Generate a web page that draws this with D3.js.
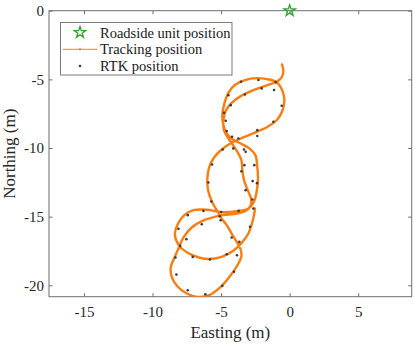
<!DOCTYPE html>
<html>
<head>
<meta charset="UTF-8">
<script src="https://cdn.jsdelivr.net/npm/d3@7"></script>
<style>
	body { margin: 0; background: #fff; }
	svg { display: block; font-family: "Liberation Serif", "Times New Roman", serif; }
	.tick text { fill: #262626; font-size: 15px; font-family: "Liberation Serif", "Times New Roman", serif; }
	.tick line { stroke: #6e6e6e; }
	.axis-label { fill: #262626; font-size: 17px; text-anchor: middle; }
	.legend-text { fill: #1a1a1a; font-size: 14.5px; }
	path.track { fill: none; stroke: #fa7d12; stroke-width: 2.4; stroke-linejoin: round; stroke-linecap: round; }
	circle.rtk { fill: #3c3c3c; }
</style>
</head>
<body>
<div id="chart"></div>
<script>
// tracking trajectory (m)
var trackEasting = [
	-0.56, -0.46, -0.56, -0.90,
	-1.68, -2.65, -3.57, -4.23, -4.64,
	-4.83, -4.79, -4.52, -4.18,
	-3.81, -3.52, -3.45, -3.33, -3.06, -2.82,
	-2.84, -3.13, -3.86, -5.08, -6.24, -7.14, -7.75, -8.11, -8.43, -8.67,
	-8.60, -8.19, -7.51, -6.71, -5.86, -5.03, -4.30, -3.81, -3.52,
	-3.57, -3.86, -4.23, -4.59, -4.96, -5.32,
	-5.66, -5.95, -6.00, -5.86, -5.51, -4.96,
	-4.23, -3.38, -2.41, -1.55, -0.90, -0.56,
	-0.39, -0.46, -0.70, -1.00,
	-1.68, -2.41, -3.26, -3.98, -4.47,
	-4.76, -4.91, -4.83, -4.59, -4.15,
	-3.57, -2.94, -2.50, -2.36, -2.31, -2.41, -2.60,
	-3.01, -3.86, -4.96, -6.05, -7.02, -7.68,
	-8.11, -8.36, -8.26, -7.87,
	-7.14, -6.05, -4.96, -4.11,
	-3.50, -3.01, -2.75, -2.60, -2.53
];
var trackNorthing = [
	-3.91, -4.37, -4.81, -5.15,
	-5.44, -5.78, -6.22, -6.71, -7.24,
	-7.97, -8.70, -9.23, -9.72,
	-10.28, -10.88, -11.61, -12.34, -13.07, -13.68,
	-14.16, -14.53, -14.77, -14.92, -15.26, -15.79, -16.52, -17.32, -18.05, -18.66,
	-19.39, -20.07, -20.60, -20.84, -20.72, -20.12, -19.27, -18.54, -17.88,
	-17.40, -16.84, -16.23, -15.62, -15.14, -14.53,
	-13.92, -13.07, -12.22, -11.37, -10.69, -10.11,
	-9.62, -9.23, -8.82, -8.41, -7.92, -7.36,
	-6.63, -6.03, -5.49, -5.17,
	-4.98, -4.91, -5.05, -5.39, -5.98,
	-6.75, -7.60, -8.33, -8.94, -9.38,
	-9.67, -10.03, -10.52, -11.37, -12.34, -13.19, -13.92,
	-14.41, -14.60, -14.67, -14.50, -14.53, -14.89,
	-15.45, -16.16, -16.76, -17.32,
	-17.78, -18.08, -17.93, -17.49,
	-16.91, -16.23, -15.50, -14.89, -14.41
];

// RTK reference points (m)
var rtkEasting = [
	-3.55, -2.28, -1.02, -4.47, -3.26, -2.04, -1.14, -4.30, -0.58, -4.79,
	-4.66, -1.19, -4.59, -4.20, -3.74, -2.36, -2.36, -4.88, -4.11, -3.33,
	-3.21, -5.66, -3.30, -2.58, -3.52, -5.93, -2.70, -2.38, -3.21, -5.71,
	-2.72, -2.65, -6.29, -5.00, -3.72, -5.10, -5.03, -7.43, -6.41, -2.89,
	-8.11, -4.23, -7.53, -7.99, -3.67, -8.33, -7.07, -5.81, -4.59, -3.84,
	-4.06, -8.26, -4.91, -7.43, -6.15
];
var rtkNorthing = [
	-5.17, -5.05, -5.20, -6.15, -6.10, -5.66, -5.78, -6.88, -6.92, -7.43,
	-8.02, -8.09, -8.77, -9.18, -9.31, -8.70, -9.13, -10.11, -10.03, -10.11,
	-10.28, -11.20, -11.25, -11.25, -11.69, -12.51, -12.41, -12.56, -13.07, -13.90,
	-13.75, -14.41, -14.58, -14.67, -14.58, -14.97, -15.26, -14.89, -15.55, -15.74,
	-15.89, -16.52, -16.64, -17.13, -16.84, -17.98, -17.93, -18.12, -17.74, -17.81,
	-19.02, -19.22, -20.04, -20.36, -20.65
];

var rsuPosition = [0, 0];

var xTicks = [-15, -10, -5, 0, 5];
var yTicks = [0, -5, -10, -15, -20];
var legendLabels = ["Roadside unit position", "Tracking position", "RTK position"];

(function(d3) {
	var W = 415, H = 346;
	var margin = {left: 49, top: 10.7, right: 3.3, bottom: 49.3};
	var w = W - margin.left - margin.right;
	var h = H - margin.top - margin.bottom;

	var svg = d3.select("#chart").append("svg")
		.attr("width", W).attr("height", H);

	var x = d3.scaleLinear().domain([-17.55, 8.9]).range([0, w]);
	var y = d3.scaleLinear().domain([-20.83, 0]).range([h, 0]);

	var g = svg.append("g").attr("transform", "translate(" + margin.left + "," + margin.top + ")");

	g.append("clipPath").attr("id", "plotclip")
		.append("rect").attr("x", 0).attr("y", 0).attr("width", w).attr("height", h);

	// axes (ticks inside, MATLAB style box)
	var fmt = function(d) { return String(d); };
	var tk = 3.5;
	function clean(a) {
		a.select(".domain").remove();
		a.attr("font-family", null).attr("font-size", null);
	}
	g.append("g").attr("transform", "translate(0," + h + ")")
		.call(d3.axisBottom(x).tickValues(xTicks).tickFormat(fmt).tickSize(-tk).tickSizeOuter(0).tickPadding(10))
		.call(clean);
	g.append("g")
		.call(d3.axisTop(x).tickValues(xTicks).tickFormat("").tickSize(-tk).tickSizeOuter(0))
		.call(clean);
	g.append("g")
		.call(d3.axisLeft(y).tickValues(yTicks).tickFormat(fmt).tickSize(-tk).tickSizeOuter(0).tickPadding(5))
		.call(clean);
	g.append("g").attr("transform", "translate(" + w + ",0)")
		.call(d3.axisRight(y).tickValues(yTicks).tickFormat("").tickSize(-tk).tickSizeOuter(0))
		.call(clean);

	g.append("rect")
		.attr("x", 0).attr("y", 0).attr("width", w).attr("height", h)
		.attr("fill", "none").attr("stroke", "#6e6e6e").attr("stroke-width", 1);

	// tracking line
	var track = trackEasting.map(function(e, i) { return [e, trackNorthing[i]]; });
	var line = d3.line()
		.x(function(d) { return x(d[0]); })
		.y(function(d) { return y(d[1]); })
		.curve(d3.curveCatmullRom.alpha(0.5));
	g.append("path")
		.attr("class", "track")
		.attr("clip-path", "url(#plotclip)")
		.attr("d", line(track));

	// RTK points
	g.selectAll("circle.rtk")
		.data(rtkEasting).enter()
		.append("circle")
		.attr("class", "rtk")
		.attr("cx", function(d) { return x(d); })
		.attr("cy", function(d, i) { return y(rtkNorthing[i]); })
		.attr("r", 1.3);

	// roadside unit
	var star = d3.symbol().type(d3.symbolStar).size(40);
	g.append("path")
		.attr("d", star())
		.attr("transform", "translate(" + x(rsuPosition[0]) + "," + y(rsuPosition[1]) + ")")
		.attr("fill", "none").attr("stroke", "#2ca02c").attr("stroke-width", 1.3);

	// axis labels
	svg.append("text").attr("class", "axis-label")
		.attr("x", margin.left + w / 2).attr("y", 338)
		.text("Easting (m)");
	svg.append("text").attr("class", "axis-label")
		.attr("transform", "translate(15," + (margin.top + h / 2) + ") rotate(-90)")
		.text("Northing (m)");

	// legend
	var lg = svg.append("g");
	lg.append("rect")
		.attr("x", 60.5).attr("y", 22.5).attr("width", 171.5).attr("height", 52.5)
		.attr("fill", "#fff").attr("stroke", "#7a7a7a").attr("stroke-width", 1);
	var rows = [32.5, 49.3, 66];
	lg.append("path")
		.attr("d", star())
		.attr("transform", "translate(80," + rows[0] + ")")
		.attr("fill", "none").attr("stroke", "#2ca02c").attr("stroke-width", 1.3);
	lg.append("line")
		.attr("x1", 63).attr("x2", 97).attr("y1", rows[1]).attr("y2", rows[1])
		.attr("stroke", "#fa7d12").attr("stroke-width", 1);
	lg.append("circle").attr("cx", 80).attr("cy", rows[1]).attr("r", 1.1).attr("fill", "#fa7d12");
	lg.append("circle").attr("cx", 80).attr("cy", rows[2]).attr("r", 1.3).attr("fill", "#3c3c3c");
	lg.selectAll("text.legend-text")
		.data(legendLabels).enter()
		.append("text")
		.attr("class", "legend-text")
		.attr("x", 100)
		.attr("y", function(d, i) { return rows[i] + 5; })
		.text(function(d) { return d; });
})(window.d3);
</script>
</body>
</html>
